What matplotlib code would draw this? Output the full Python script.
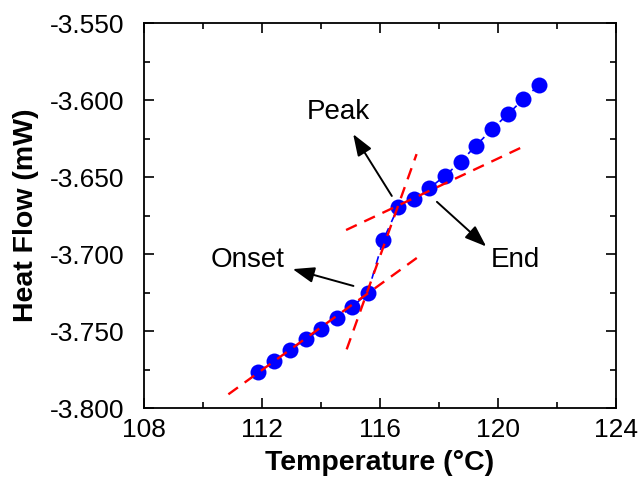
import numpy as np
import matplotlib
matplotlib.use("Agg")
import matplotlib.pyplot as plt
from matplotlib.ticker import MultipleLocator, FormatStrFormatter

plt.rcParams['font.family'] = ['Liberation Sans', 'DejaVu Sans']

# DSC data
temp = [111.87, 112.41, 112.95, 113.48, 114.00, 114.53, 115.06, 115.58, 116.11,
        116.62, 117.15, 117.67, 118.20, 118.73, 119.25, 119.79, 120.33, 120.86, 121.39]
heat = [-3.7764, -3.7695, -3.7623, -3.7554, -3.7489, -3.7418, -3.7342, -3.7255, -3.6909,
        -3.6693, -3.6645, -3.6573, -3.6492, -3.6401, -3.6297, -3.6190, -3.6093, -3.5994, -3.5903]

# tangent lines (end points)
base_x = [110.86, 117.30]
base_y = [-3.7911, -3.7018]
steep_x = [114.87, 117.24]
steep_y = [-3.7619, -3.6351]
after_x = [114.85, 120.97]
after_y = [-3.6844, -3.6292]

fig = plt.figure(figsize=(6.4, 4.91), dpi=100)
ax = fig.add_axes([0.225, 0.169, 0.7375, 0.784])

ax.plot(temp, heat, color="blue", linewidth=1.2, linestyle=(0, (5, 4)))
for lx, ly in [(base_x, base_y), (steep_x, steep_y), (after_x, after_y)]:
    ax.plot(lx, ly, color="red", linewidth=1.7, dashes=(5, 3.5), zorder=3)
ax.plot(temp, heat, "o", color="blue", markersize=11.5, markeredgewidth=0, zorder=2)

arw = dict(arrowstyle="-|>,head_length=0.6,head_width=0.22", color="black", lw=1.4, mutation_scale=22)
ax.annotate("", xy=(115.04, -3.6206), xytext=(116.45, -3.6638), arrowprops=arw)
ax.annotate("", xy=(119.67, -3.6963), xytext=(117.86, -3.6649), arrowprops=arw)
ax.annotate("", xy=(112.95, -3.7093), xytext=(115.19, -3.7212), arrowprops=arw)
ax.text(114.59, -3.6076, "Peak", fontsize=20, ha="center", va="center")
ax.text(120.58, -3.7039, "End", fontsize=20, ha="center", va="center")
ax.text(111.50, -3.7039, "Onset", fontsize=20, ha="center", va="center")

ax.set_xlim(108, 124)
ax.set_ylim(-3.800, -3.550)
ax.xaxis.set_major_locator(MultipleLocator(4))
ax.xaxis.set_minor_locator(MultipleLocator(2))
ax.yaxis.set_major_locator(MultipleLocator(0.05))
ax.yaxis.set_minor_locator(MultipleLocator(0.025))
ax.yaxis.set_major_formatter(FormatStrFormatter("%.3f"))
ax.tick_params(which="both", direction="in", top=True, right=True, labelsize=19)
ax.tick_params(which="major", length=7, width=1.2)
ax.tick_params(which="minor", length=4, width=1.2)
ax.tick_params(axis="x", pad=7)
ax.tick_params(axis="y", pad=14)
for s in ax.spines.values():
    s.set_linewidth(1.3)

ax.set_xlabel("Temperature (\u00b0C)", fontsize=20.5, fontweight="bold", labelpad=6)
ax.set_ylabel("Heat Flow (mW)", fontsize=20.5, fontweight="bold", labelpad=8)

fig.savefig("out.png", dpi=100)
